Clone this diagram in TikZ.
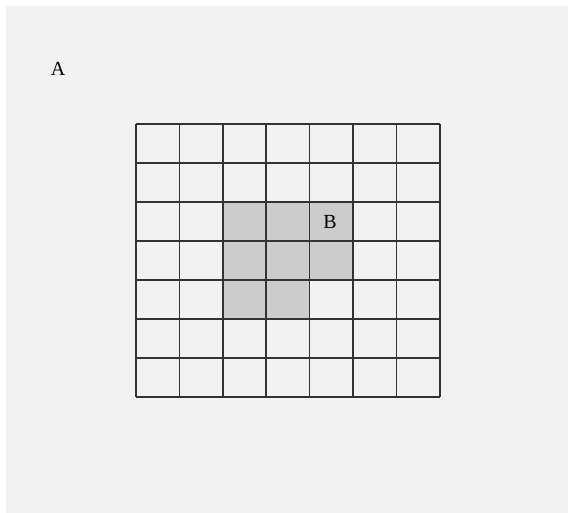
\documentclass[tikz,border=0pt]{standalone}
\usepackage{fontspec}
\setmainfont{Liberation Serif}
\usetikzlibrary{positioning}
\definecolor{bgray}{HTML}{F2F2F2}
\definecolor{cellgray}{HTML}{CCCCCC}
\definecolor{gridgray}{HTML}{333333}
\begin{document}
\begin{tikzpicture}[x=1pt,y=-1pt]
            \tikzset{my label/.style = {inner sep=0pt, font=\fontsize{20}{24}\selectfont}}
            \tikzset{my grid/.style = {draw=gridgray, line width=1.6pt}}
            \useasboundingbox (0,0) rectangle (568,513);
            \fill[bgray] (6,6) rectangle (568,513);
            % shaded cells
            \foreach \c/\r in {2/2,3/2,4/2,2/3,3/3,4/3,2/4,3/4}
                \fill[cellgray] (136+\c*43.4,124+\r*39) rectangle ++(43.4,39);
            % grid lines
            \foreach \i in {0,...,7} {
                \draw[my grid] (136+\i*43.4,124) -- (136+\i*43.4,397);
                \draw[my grid] (136,124+\i*39) -- (440,124+\i*39);
            }
            \node[my label] (A) at (58,69) {A};
            \node[my label] (B) at (330,222) {B};
        \end{tikzpicture}
\end{document}
